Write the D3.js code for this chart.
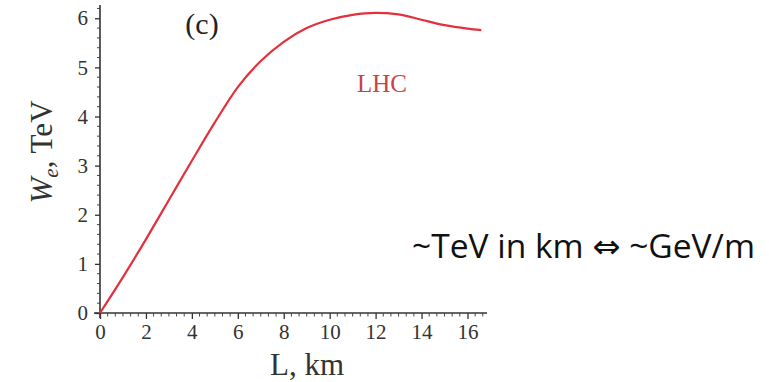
<!DOCTYPE html>
<html><head><meta charset="utf-8">
<script src="https://cdn.jsdelivr.net/npm/d3@7"></script>
<style>html,body{margin:0;padding:0;background:#fff;}svg{display:block;}</style>
</head><body>
<svg id="c" width="769" height="382"></svg>
<script>
const L = [0, 1, 2, 3, 4, 5, 6, 7, 8, 9, 10, 11, 12, 13, 14, 15, 16, 16.6];
const W = [0, 0.73, 1.5, 2.3, 3.1, 3.88, 4.6, 5.13, 5.52, 5.8, 5.97, 6.07, 6.11, 6.08, 5.97, 5.86, 5.79, 5.76];
const xTicks = [0, 2, 4, 6, 8, 10, 12, 14, 16];
const yTicks = [0, 1, 2, 3, 4, 5, 6];
const seriesName = "LHC";
const panelLabel = "(c)";
const note = "~TeV in km \u21D4 ~GeV/m";

const svg = d3.select("#c");
const x = d3.scaleLinear().domain([0, 16.85]).range([100, 487]);
const y = d3.scaleLinear().domain([0, 6.27]).range([313, 5]);
const serif = "'Liberation Serif','Times New Roman',serif";

const xMinor = d3.range(0, 16.85, 1/3).filter(v => Math.abs(v/2 - Math.round(v/2)) > 1e-6);
const yMinor = d3.range(0, 6.27, 0.2).filter(v => Math.abs(v - Math.round(v)) > 1e-6);

const gx = svg.append("g").attr("transform", `translate(0,${y(0)})`);
gx.call(d3.axisBottom(x).tickValues(xTicks).tickSize(6).tickPadding(5).tickFormat(d3.format("d")));
gx.select(".domain").remove();
gx.append("line").attr("x1", 94).attr("x2", 487).attr("stroke", "#333").attr("stroke-width", 1.6);
gx.selectAll(".minor").data(xMinor).join("line").attr("class","minor")
  .attr("x1", d => x(d)).attr("x2", d => x(d)).attr("y1", 0).attr("y2", 3.5)
  .attr("stroke", "#444").attr("stroke-width", 1);
gx.selectAll(".tick line").attr("stroke", "#333").attr("stroke-width", 1.3);
gx.selectAll(".tick text").attr("font-family", serif).attr("font-size", 21).attr("fill", "#333");

const gy = svg.append("g").attr("transform", `translate(${x(0)},0)`);
gy.call(d3.axisLeft(y).tickValues(yTicks).tickSize(5).tickPadding(7).tickFormat(d3.format("d")));
gy.select(".domain").remove();
gy.append("line").attr("y1", 5).attr("y2", 318).attr("stroke", "#333").attr("stroke-width", 1.6);
gy.selectAll(".minor").data(yMinor).join("line").attr("class","minor")
  .attr("y1", d => y(d)).attr("y2", d => y(d)).attr("x1", 0).attr("x2", -3)
  .attr("stroke", "#444").attr("stroke-width", 1);
gy.selectAll(".tick line").attr("stroke", "#333").attr("stroke-width", 1.3);
gy.selectAll(".tick text").attr("font-family", serif).attr("font-size", 21).attr("fill", "#333");

const pts = L.map((d, i) => [d, W[i]]);
svg.append("path").datum(pts)
  .attr("d", d3.line().x(d => x(d[0])).y(d => y(d[1])).curve(d3.curveMonotoneX))
  .attr("fill", "none").attr("stroke", "#e3303c").attr("stroke-width", 2.2);

svg.append("text").attr("x", 307).attr("y", 375).attr("text-anchor", "middle")
  .attr("font-family", serif).attr("font-size", 31).attr("fill", "#333").text("L, km");

const yl = svg.append("text").attr("transform", "translate(52,152) rotate(-90)")
  .attr("text-anchor", "middle").attr("font-family", serif).attr("font-size", 31).attr("fill", "#333");
yl.append("tspan").attr("font-style", "italic").text("W");
yl.append("tspan").attr("font-style", "italic").attr("font-size", 21).attr("dy", 6).text("e");
yl.append("tspan").attr("dy", -6).text(", TeV");

svg.append("text").attr("x", 202).attr("y", 34).attr("text-anchor", "middle")
  .attr("font-family", serif).attr("font-size", 30).attr("fill", "#222").text(panelLabel);

svg.append("text").attr("x", 382).attr("y", 92).attr("text-anchor", "middle")
  .attr("font-family", serif).attr("font-size", 25).attr("fill", "#c8424c").text(seriesName);

const nt = svg.append("text").attr("x", 412).attr("y", 258)
  .attr("font-family", "'Open Sans','DejaVu Sans',sans-serif").attr("font-size", 28).attr("fill", "#111").text(note);
const w = nt.node().getComputedTextLength();
nt.attr("font-size", 28 * 343 / w);
</script>
</body></html>
